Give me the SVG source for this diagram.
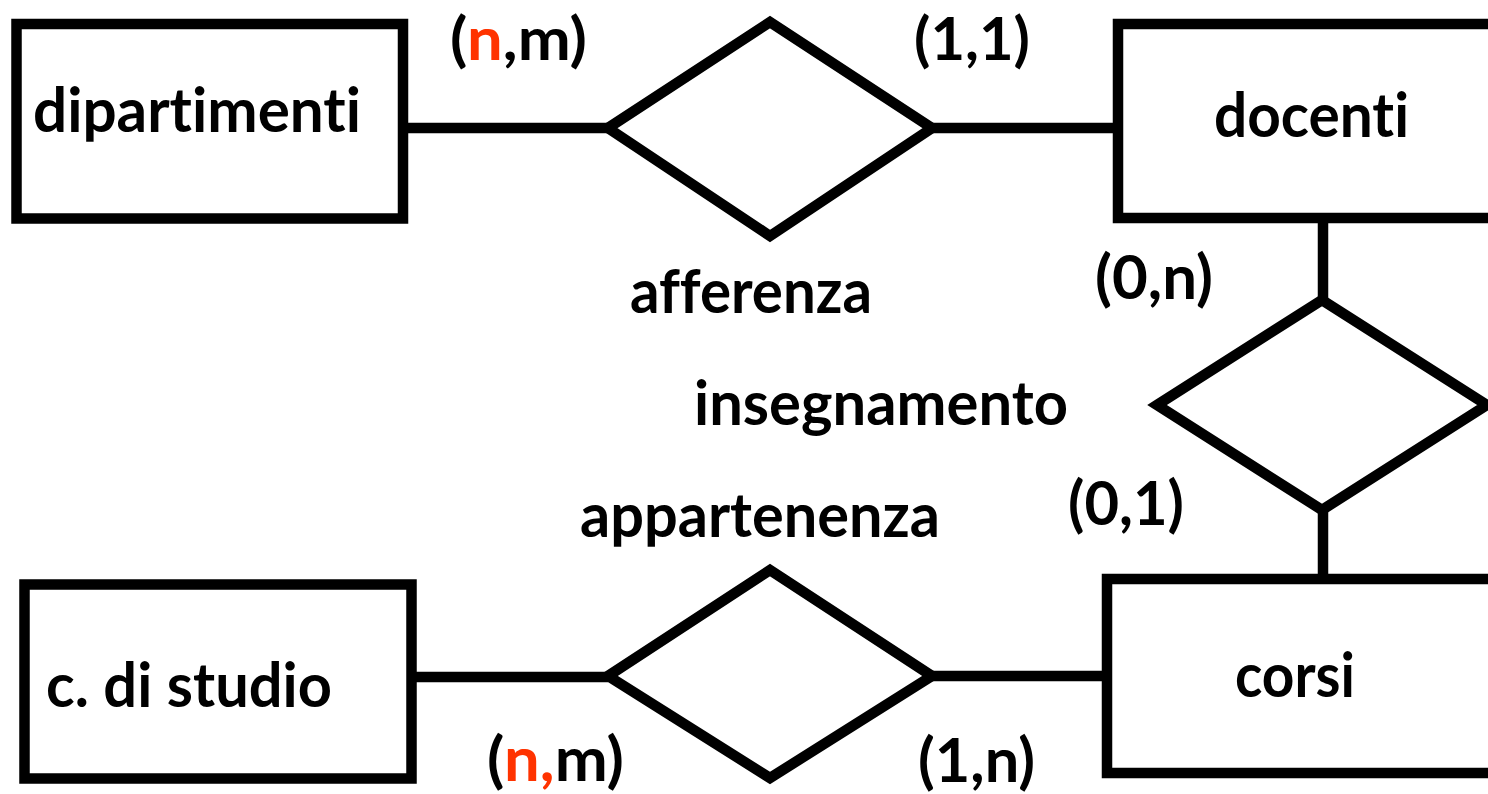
<svg xmlns="http://www.w3.org/2000/svg" width="1488" height="794" viewBox="0 0 1488 794">
<style>
.ent{fill:#fff;stroke:#000;stroke-width:10.5}
.rel{fill:#fff;stroke:#000;stroke-width:10.5;stroke-linejoin:miter}
.con{stroke:#000;stroke-width:10.5;fill:none}
text{font-family:Lato,"Open Sans","Liberation Sans",sans-serif;font-weight:bold;font-size:62px;fill:#000;font-variant-ligatures:none;font-feature-settings:"liga" 0,"clig" 0}
.top{font-size:60px}
.red{fill:#FF3300}
</style>
<rect width="1488" height="794" fill="#fff"/>
<g id="connectors">
<line class="con" x1="403" y1="128" x2="608" y2="128"/>
<line class="con" x1="932" y1="128" x2="1118" y2="128"/>
<line class="con" x1="1323" y1="218" x2="1323" y2="300"/>
<line class="con" x1="1323" y1="510" x2="1323" y2="579"/>
<line class="con" x1="411" y1="677" x2="608" y2="677"/>
<line class="con" x1="932" y1="676" x2="1107" y2="676"/>
</g>
<g id="dipartimenti">
<rect class="ent" x="16.5" y="24" width="386.5" height="194.5"/>
<text x="33" y="132" textLength="328" lengthAdjust="spacingAndGlyphs">dipartimenti</text>
</g>
<g id="docenti">
<rect class="ent" x="1118" y="24" width="400" height="194"/>
<text x="1214" y="137" textLength="195" lengthAdjust="spacingAndGlyphs">docenti</text>
</g>
<g id="afferenza">
<polygon class="rel" points="608,128 770,22 932,128 770,236"/>
<text x="630" y="313" textLength="242" lengthAdjust="spacingAndGlyphs">afferenza</text>
<text class="top" x="450" y="60" textLength="137" lengthAdjust="spacingAndGlyphs">(<tspan class="red">n</tspan>,m)</text>
<text class="top" x="914" y="60" textLength="116" lengthAdjust="spacingAndGlyphs">(1,1)</text>
</g>
<g id="insegnamento">
<polygon class="rel" points="1157,405 1322,300 1487,405 1322,510"/>
<text x="694" y="425" textLength="374" lengthAdjust="spacingAndGlyphs">insegnamento</text>
<text x="1095" y="299" textLength="118" lengthAdjust="spacingAndGlyphs">(0,n)</text>
<text x="1068" y="525" textLength="116" lengthAdjust="spacingAndGlyphs">(0,1)</text>
</g>
<g id="corsi">
<rect class="ent" x="1107" y="579" width="400" height="194"/>
<text x="1235" y="697" textLength="120" lengthAdjust="spacingAndGlyphs">corsi</text>
</g>
<g id="c_di_studio">
<rect class="ent" x="24.5" y="584.5" width="387" height="194"/>
<text x="46" y="707" textLength="286" lengthAdjust="spacingAndGlyphs">c. di studio</text>
</g>
<g id="appartenenza">
<polygon class="rel" points="608,676 770,570 932,676 770,778"/>
<text x="580" y="537" textLength="360" lengthAdjust="spacingAndGlyphs">appartenenza</text>
<text x="487" y="781" textLength="137" lengthAdjust="spacingAndGlyphs">(<tspan class="red">n,</tspan>m)</text>
<text x="918" y="782" textLength="117" lengthAdjust="spacingAndGlyphs">(1,n)</text>
</g>
</svg>
